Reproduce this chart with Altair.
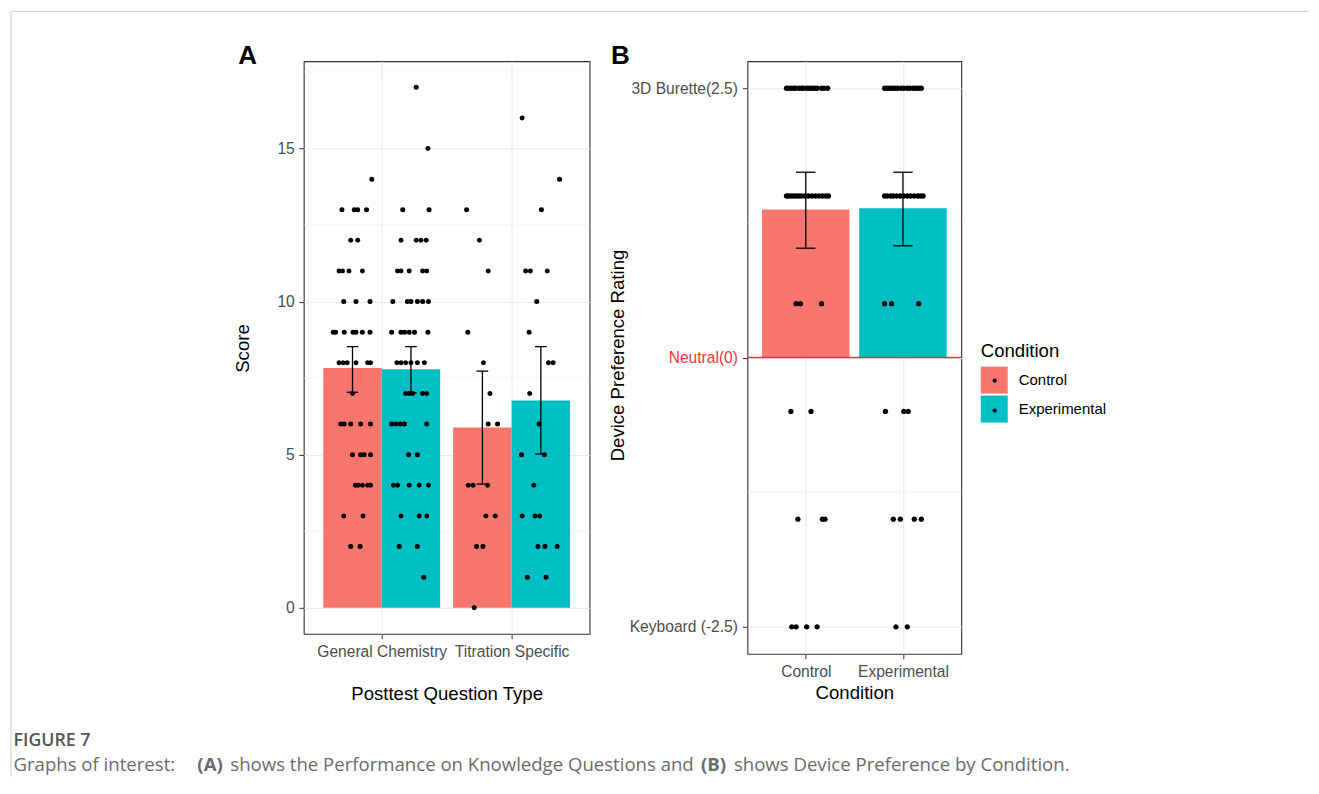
import altair as alt
import pandas as pd

# ---------------- data ----------------
question_types = ["General Chemistry", "Titration Specific"]
conditions = ["Control", "Experimental"]
condition_colors = ["#F8766D", "#00BFC4"]

# Panel A: mean score and error-bar limits per question type
a_mean = {"Control": [7.83, 5.89], "Experimental": [7.79, 6.77]}
a_low = {"Control": [7.04, 4.04], "Experimental": [7.02, 5.02]}
a_high = {"Control": [8.53, 7.73], "Experimental": [8.53, 8.53]}
a_score_ticks = [0, 5, 10, 15]
a_minor_breaks = [2.5, 7.5, 12.5, 17.5]

# individual scores: score -> horizontal jitter (fraction of dodge width)
a_pts_gc_control = {
    14: [0.33], 13: [-0.18, 0.03, 0.09, 0.24], 12: [-0.03, 0.09],
    11: [-0.23, -0.17, -0.06, 0.17], 10: [-0.15, 0.06, 0.30],
    9: [-0.33, -0.29, -0.14, 0.01, 0.06, 0.17, 0.30],
    8: [-0.23, -0.16, -0.09, 0.06, 0.26, 0.31], 7: [0.0],
    6: [-0.20, -0.14, -0.03, 0.14, 0.31], 5: [0.0, 0.14, 0.20, 0.31],
    4: [0.05, 0.10, 0.17, 0.26, 0.31], 3: [-0.15, 0.18], 2: [-0.03, 0.13],
}
a_pts_gc_experimental = {
    17: [0.09], 15: [0.29], 13: [-0.14, 0.31], 12: [-0.17, 0.09, 0.17, 0.26],
    11: [-0.23, -0.17, -0.03, 0.20, 0.27],
    10: [-0.31, -0.06, 0.0, 0.11, 0.20, 0.30],
    9: [-0.33, -0.17, -0.11, -0.03, 0.06, 0.29],
    8: [-0.24, -0.17, -0.09, 0.0, 0.11, 0.23],
    7: [-0.09, -0.03, 0.03, 0.20, 0.27],
    6: [-0.33, -0.26, -0.18, -0.11, 0.27], 5: [-0.04, 0.11],
    4: [-0.30, -0.23, -0.03, 0.14, 0.30], 3: [-0.17, 0.14, 0.27],
    2: [-0.20, 0.11], 1: [0.22],
}
a_pts_ts_control = {
    13: [-0.27], 12: [-0.05], 11: [0.10], 9: [-0.25], 8: [0.02], 7: [0.13],
    6: [0.10, 0.26], 4: [-0.24, -0.16, 0.09], 3: [0.06, 0.22],
    2: [-0.10, 0.01], 0: [-0.14],
}
a_pts_ts_experimental = {
    16: [-0.32], 14: [0.32], 13: [0.01], 11: [-0.26, -0.18, 0.11], 10: [-0.07],
    9: [-0.20], 8: [0.13, 0.21], 7: [-0.19], 6: [-0.03], 5: [-0.33, 0.06],
    4: [-0.12], 3: [-0.32, -0.10, -0.02], 2: [-0.05, 0.07, 0.28],
    1: [-0.23, 0.09],
}

# Panel B: device preference rating
b_mean = [1.373, 1.386]
b_low = [1.015, 1.037]
b_high = [1.72, 1.72]
b_ticks = [-2.5, 0, 2.5]
b_tick_labels = ["Keyboard (-2.5)", "Neutral(0)", "3D Burette(2.5)"]
b_minor_breaks = [-1.25, 1.25]
b_neutral = [0]

# rating -> horizontal jitter (fraction of bar width)
b_pts_control = {
    2.5: [-0.22, -0.20, -0.17, -0.14, -0.12, -0.08, -0.05, -0.03, 0.01, 0.04,
          0.07, 0.10, 0.13, 0.18, 0.21, 0.25],
    1.5: [-0.22, -0.20, -0.17, -0.14, -0.11, -0.08, -0.05, -0.01, 0.03, 0.07,
          0.11, 0.15, 0.19, 0.23, 0.26],
    0.5: [-0.11, -0.06, 0.18],
    -0.5: [-0.17, 0.06],
    -1.5: [-0.09, 0.19, 0.22],
    -2.5: [-0.16, -0.11, 0.01, 0.13],
}
b_pts_experimental = {
    2.5: [-0.21, -0.18, -0.15, -0.12, -0.09, -0.06, -0.02, 0.01, 0.05, 0.08,
          0.12, 0.15, 0.18, 0.21],
    1.5: [-0.21, -0.18, -0.14, -0.11, -0.07, -0.03, 0.01, 0.05, 0.09, 0.13,
          0.17, 0.20, 0.23],
    0.5: [-0.21, -0.13, 0.18],
    -0.5: [-0.20, 0.01, 0.06],
    -1.5: [-0.11, -0.03, 0.13, 0.21],
    -2.5: [-0.08, 0.05],
}

caption_title = "FIGURE 7"
caption_parts = ["Graphs of interest:", "(A)", "shows the Performance on Knowledge Questions and",
                 "(B)", "shows Device Preference by Condition."]

# ---------------- tables ----------------
a_bar_rows = []
for qi, q in enumerate(question_types):
    for ci, c in enumerate(conditions):
        a_bar_rows.append(dict(q=q, qi=qi + 1, c=c, ci=ci, mean=a_mean[c][qi],
                               lo=a_low[c][qi], hi=a_high[c][qi]))
df_a_bars = pd.DataFrame(a_bar_rows)

a_points = {
    ("General Chemistry", "Control"): a_pts_gc_control,
    ("General Chemistry", "Experimental"): a_pts_gc_experimental,
    ("Titration Specific", "Control"): a_pts_ts_control,
    ("Titration Specific", "Experimental"): a_pts_ts_experimental,
}
a_pt_rows = []
for (q, c), d in a_points.items():
    for score, offs in d.items():
        for j in offs:
            a_pt_rows.append(dict(q=q, qi=question_types.index(q) + 1, c=c,
                                  ci=conditions.index(c), score=score, jit=j))
df_a_pts = pd.DataFrame(a_pt_rows)

df_b_bars = pd.DataFrame(dict(c=conditions, pos=[1, 2], mean=b_mean, lo=b_low, hi=b_high))
b_pt_rows = []
for c, d in zip(conditions, [b_pts_control, b_pts_experimental]):
    for r, offs in d.items():
        for j in offs:
            b_pt_rows.append(dict(c=c, pos=conditions.index(c) + 1, rating=r, jit=j))
df_b_pts = pd.DataFrame(b_pt_rows)


def label_expr(values, labels):
    expr = "'" + labels[-1] + "'"
    for v, lab in reversed(list(zip(values[:-1], labels[:-1]))):
        expr = f"datum.value == {v} ? '{lab}' : " + expr
    return expr


# ---------------- style ----------------
FONT = "Liberation Sans"
CAPFONT = "Open Sans"
RED = "#E8373E"
GRID = "#EBEBEB"
TICKFS = 15.6

axis_common = dict(labelFont=FONT, titleFont=FONT, labelFontSize=TICKFS,
                   titleFontSize=18.6, titleFontWeight="normal", titleColor="black",
                   tickColor="#333333", tickSize=5, tickWidth=1, domain=False,
                   grid=True, gridColor=GRID, gridWidth=1.1, labelFlush=False,
                   labelOverlap=False)

ax_xa = alt.Axis(values=[1, 2], labelExpr=label_expr([1, 2], question_types),
                 title="Posttest Question Type", titleX=143, titleY=59.5,
                 titleBaseline="middle", titleAlign="center", labelPadding=6,
                 labelColor="#4D4D4D", **axis_common)
ax_ya = alt.Axis(values=a_score_ticks, title="Score", titleX=-61, titleY=287,
                 titleAngle=270, titleBaseline="middle", titleAlign="center",
                 labelPadding=4.5, labelColor="#4D4D4D", **axis_common)
ax_xb = alt.Axis(values=[1, 2], labelExpr=label_expr([1, 2], conditions),
                 title="Condition", titleX=107, titleY=38.5,
                 titleBaseline="middle", titleAlign="center", labelPadding=6,
                 labelColor="#4D4D4D", **axis_common)
ax_yb = alt.Axis(values=b_ticks, labelExpr=label_expr(b_ticks, b_tick_labels),
                 labelColor={"condition": {"test": "datum.value == 0", "value": RED},
                             "value": "#4D4D4D"},
                 title="Device Preference Rating", titleX=-130.5, titleY=294,
                 titleAngle=270, titleBaseline="middle", titleAlign="center",
                 labelPadding=5, **axis_common)

sx_a = alt.Scale(domain=[0.4, 2.6], nice=False, zero=False)
sy_a = alt.Scale(domain=[-0.85, 17.85], nice=False, zero=False)
sx_b = alt.Scale(domain=[0.4, 2.6], nice=False, zero=False)
sy_b = alt.Scale(domain=[-2.75, 2.75], nice=False, zero=False)


def xa(f):
    return alt.X(f"{f}:Q", scale=sx_a, axis=ax_xa)


def ya(f):
    return alt.Y(f"{f}:Q", scale=sy_a, axis=ax_ya)


def xb(f):
    return alt.X(f"{f}:Q", scale=sx_b, axis=ax_xb)


def yb(f):
    return alt.Y(f"{f}:Q", scale=sy_b, axis=ax_yb)


# ---------------- panel A ----------------
a_minor = alt.Chart(pd.DataFrame({"v": a_minor_breaks})).mark_rule(
    color=GRID, strokeWidth=0.6).encode(y=ya("v"))

a_base = alt.Chart(df_a_bars).transform_calculate(
    xc="datum.qi + (datum.ci - 0.5) * 0.45",
    x1="datum.xc - 0.225",
    x2="datum.xc + 0.225",
    cx1="datum.xc - 0.045",
    cx2="datum.xc + 0.045",
    base="0",
)
a_bars = a_base.mark_bar(opacity=1).encode(
    x=xa("x1"), x2="x2:Q", y=ya("mean"), y2="base:Q",
    color=alt.Color("c:N", scale=alt.Scale(domain=conditions, range=condition_colors),
                    legend=None))
a_pts = alt.Chart(df_a_pts).transform_calculate(
    px="datum.qi + (datum.ci - 0.5) * 0.45 + datum.jit * 0.45"
).mark_point(filled=True, shape="circle", size=25, color="black", opacity=1).encode(
    x=xa("px"), y=ya("score"))
a_err = a_base.mark_rule(color="black", strokeWidth=1.3).encode(
    x=xa("xc"), y=ya("lo"), y2="hi:Q")
a_cap_hi = a_base.mark_rule(color="black", strokeWidth=1.3).encode(
    x=xa("cx1"), x2="cx2:Q", y=ya("hi"))
a_cap_lo = a_base.mark_rule(color="black", strokeWidth=1.3).encode(
    x=xa("cx1"), x2="cx2:Q", y=ya("lo"))

one = pd.DataFrame({"k": [0]})
a_label = alt.Chart(one).mark_text(text="A", font=FONT, fontSize=26, fontWeight="bold",
                                   align="left", baseline="alphabetic", color="black").encode(
    x=alt.value(-65.5), y=alt.value(2.5))
frame_top = alt.Chart(one).mark_rule(color="#CCCCCC", strokeWidth=1).encode(
    x=alt.value(-293), x2=alt.value(1006), y=alt.value(-50))
frame_left = alt.Chart(one).mark_rule(color="#CCCCCC", strokeWidth=1).encode(
    x=alt.value(-293), y=alt.value(-50), y2=alt.value(716))
cap_title = alt.Chart(one).mark_text(text=caption_title, font=CAPFONT, fontSize=17.8,
                                     fontWeight=600, align="left", baseline="middle",
                                     color="#555555").encode(
    x=alt.value(-290.5), y=alt.value(680.5))
cap_x = [-290.5, -106.5, -73.5, 397.5, 430.5]
cap_w = ["normal", "bold", "normal", "bold", "normal"]
cap_layers = []
for t, xx, w in zip(caption_parts, cap_x, cap_w):
    cap_layers.append(alt.Chart(one).mark_text(
        text=t, font=CAPFONT, fontSize=18.6, fontWeight=w, align="left",
        baseline="middle", color="#6B6B6B").encode(x=alt.value(xx), y=alt.value(704.5)))

panel_a = alt.layer(a_minor, a_bars, a_pts, a_err, a_cap_hi, a_cap_lo, a_label,
                    frame_top, frame_left, cap_title, *cap_layers).properties(
    width=286, height=573)

# ---------------- panel B ----------------
DOT = "M -0.16,0 A 0.16,0.16 0 1,0 0.16,0 A 0.16,0.16 0 1,0 -0.16,0 Z"
leg_common = dict(title="Condition", orient="none", legendX=233.5, legendY=281,
                  symbolSize=729, symbolStrokeWidth=0, rowPadding=2,
                  labelFont=FONT, labelColor="black", labelOffset=11,
                  titleFont=FONT, titleFontSize=18.6, titleFontWeight="normal",
                  titleColor="black", titlePadding=6, padding=0)

b_minor = alt.Chart(pd.DataFrame({"v": b_minor_breaks})).mark_rule(
    color=GRID, strokeWidth=0.6).encode(y=yb("v"))
b_base = alt.Chart(df_b_bars).transform_calculate(
    x1="datum.pos - 0.45", x2="datum.pos + 0.45",
    cx1="datum.pos - 0.1", cx2="datum.pos + 0.1", base="0")
b_bars = b_base.mark_bar(opacity=1).encode(
    x=xb("x1"), x2="x2:Q", y=yb("mean"), y2="base:Q",
    color=alt.Color("c:N", scale=alt.Scale(range=condition_colors),
                    legend=alt.Legend(symbolType="square", labelFontSize=15, **leg_common)))
b_hline = alt.Chart(pd.DataFrame({"v": b_neutral})).mark_rule(
    color=RED, strokeWidth=1.4).encode(y=yb("v"))
b_pts = alt.Chart(df_b_pts).transform_calculate(
    px="datum.pos + datum.jit * 0.9", c2="datum.c"
).mark_point(filled=True, size=1150, color="black", opacity=1).encode(
    x=xb("px"), y=yb("rating"),
    shape=alt.Shape("c2:N", scale=alt.Scale(domain=conditions, range=[DOT, DOT]),
                    legend=alt.Legend(labelFontSize=28, labelExpr="''", titleOpacity=0,
                                      symbolFillColor="black", **leg_common)))
b_err = b_base.mark_rule(color="black", strokeWidth=1.3).encode(
    x=xb("pos"), y=yb("lo"), y2="hi:Q")
b_cap_hi = b_base.mark_rule(color="black", strokeWidth=1.3).encode(
    x=xb("cx1"), x2="cx2:Q", y=yb("hi"))
b_cap_lo = b_base.mark_rule(color="black", strokeWidth=1.3).encode(
    x=xb("cx1"), x2="cx2:Q", y=yb("lo"))
b_label = alt.Chart(one).mark_text(text="B", font=FONT, fontSize=26, fontWeight="bold",
                                   align="left", baseline="alphabetic", color="black").encode(
    x=alt.value(-136.5), y=alt.value(2.5))

panel_b = alt.layer(b_minor, b_bars, b_hline, b_pts, b_err, b_cap_hi, b_cap_lo,
                    b_label).properties(width=214, height=593)

chart = alt.hconcat(panel_a, panel_b, spacing=158, bounds="flush").resolve_scale(
    color="independent", shape="independent", x="independent", y="independent"
).properties(
    padding={"left": 1, "top": 1, "right": 0, "bottom": 0}, background="white"
).configure(font=FONT).configure_view(stroke="#333333", strokeWidth=1.1)

chart.save("out.html", embed_options={"renderer": "svg", "actions": False})
